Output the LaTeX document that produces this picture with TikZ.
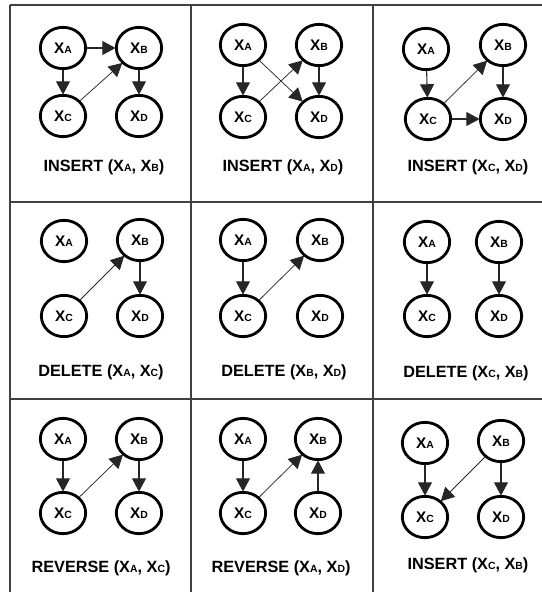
\documentclass[tikz,border=0pt]{standalone}
\usepackage{fontspec}
\setmainfont{Liberation Sans}
\usetikzlibrary{arrows.meta,shapes.geometric}
\newcommand{\vx}[1]{X{\fontsize{7.8pt}{8pt}\selectfont #1}}
\tikzset{
  gnode/.style={ellipse, draw=black, line width=2.1pt, minimum width=34pt, minimum height=31pt, inner sep=0pt, font=\fontsize{11.5pt}{12pt}\selectfont\bfseries},
  glabel/.style={font=\fontsize{12.2pt}{14pt}\selectfont\bfseries, inner sep=0pt},
  edge/.style={-{Triangle[length=10pt,width=10.5pt]}, line width=0.8pt, color=black!85, shorten >=-0.5pt},
  dedge/.style={edge, line width=0.55pt},
  grid/.style={line width=1.1pt, color=black!75}
}
\newcommand{\fourn}[9]{%
  \node[gnode] (#1a) at (#2) {\vx{A}};
  \node[gnode] (#1b) at (#3) {\vx{B}};
  \node[gnode] (#1c) at (#4) {\vx{C}};
  \node[gnode] (#1d) at (#5) {\vx{D}};
  \node[glabel] (#1l) at (#6) {#7 (\vx{#8}, \vx{#9})};
}
\begin{document}
\begin{tikzpicture}[x=0.75pt,y=-0.75pt]
\useasboundingbox (0,0) rectangle (542,592);
% grid
\coordinate (t0) at (10,5);   \coordinate (t1) at (542,5);
\coordinate (h10) at (10,202); \coordinate (h11) at (542,202);
\coordinate (h20) at (10,399); \coordinate (h21) at (542,399);
\coordinate (v00) at (10,5);   \coordinate (v01) at (10,592);
\coordinate (v10) at (191,5);  \coordinate (v11) at (191,592);
\coordinate (v20) at (373,5);  \coordinate (v21) at (373,592);
\draw[grid] (t0) -- (t1);
\draw[grid] (h10) -- (h11);
\draw[grid] (h20) -- (h21);
\draw[grid] (v00) -- (v01);
\draw[grid] (v10) -- (v11);
\draw[grid] (v20) -- (v21);

% row 1
\fourn{p}{63,48}{139,48}{63,116}{139,116}{104,167}{INSERT}{A}{B}
\draw[edge] (pa) -- (pc);
\draw[edge] (pa) -- (pb);
\draw[dedge] (pc) -- (pb);
\draw[edge] (pb) -- (pd);

\fourn{q}{243,45}{319,45}{243,117}{319,117}{283,167}{INSERT}{A}{D}
\draw[edge] (qa) -- (qc);
\draw[dedge] (qa) -- (qd);
\draw[dedge] (qc) -- (qb);
\draw[edge] (qb) -- (qd);

\fourn{r}{426,49}{503,45}{428,119}{503,119}{468,167}{INSERT}{C}{D}
\draw[edge] (ra) -- (rc);
\draw[dedge] (rc) -- (rb);
\draw[edge] (rb) -- (rd);
\draw[edge] (rc) -- (rd);

% row 2
\fourn{s}{64,241}{140,240}{64,316}{140,316}{101,372}{DELETE}{A}{C}
\draw[dedge] (sc) -- (sb);
\draw[edge] (sb) -- (sd);

\fourn{t}{243,240}{320,240}{243,316}{320,316}{284,372}{DELETE}{B}{D}
\draw[edge] (ta) -- (tc);
\draw[dedge] (tc) -- (tb);

\fourn{u}{427,242}{499,242}{427,316}{499,316}{466,373}{DELETE}{C}{B}
\draw[edge] (ua) -- (uc);
\draw[edge] (ub) -- (ud);

% row 3
\fourn{w}{63,439}{139,439}{63,513}{139,513}{101,568}{REVERSE}{A}{C}
\draw[edge] (wa) -- (wc);
\draw[dedge] (wc) -- (wb);
\draw[edge] (wb) -- (wd);

\fourn{y}{243,439}{318,439}{243,513}{318,513}{281,568}{REVERSE}{A}{D}
\draw[edge] (ya) -- (yc);
\draw[dedge] (yc) -- (yb);
\draw[edge] (yd) -- (yb);

\fourn{z}{425,443}{501,441}{425,517}{501,517}{468,565}{INSERT}{C}{B}
\draw[edge] (za) -- (zc);
\draw[dedge] (zb) -- (zc);
\draw[edge] (zb) -- (zd);
\end{tikzpicture}
\end{document}
